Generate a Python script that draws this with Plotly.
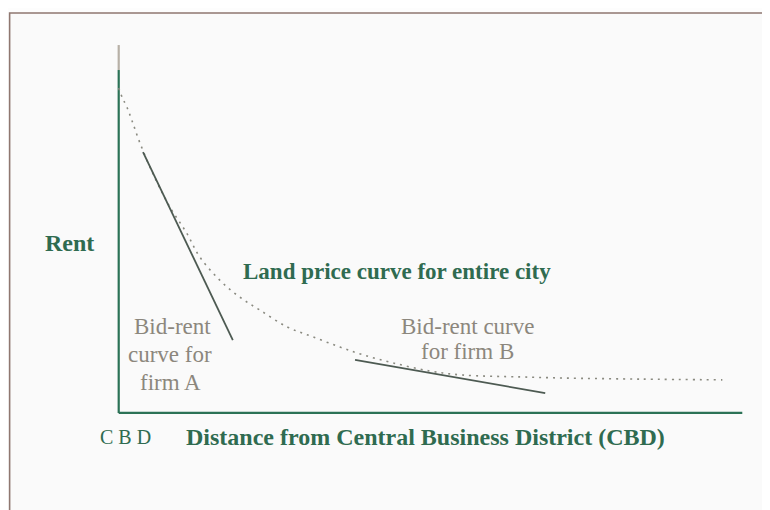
import plotly.graph_objects as go

# ---- data (abstract units: distance 0-100, rent 0-100) ----
land_x = [0, 0.6, 1.3, 2.1, 3.4, 5.8, 8.2, 10.9, 13.0, 16.2, 19.4, 22.6, 27.0, 31.1,
          35.5, 39.2, 44.0, 49.9, 55.2, 64.4, 71.3, 83.6, 96.8]
land_y = [88.3, 85.6, 83.2, 79.6, 73.4, 63.9, 56.0, 48.9, 42.4, 36.1, 31.5, 28.0, 23.4,
          20.7, 17.9, 15.8, 13.6, 11.4, 10.3, 9.8, 9.5, 9.2, 9.0]
firmA_x = [3.9, 18.3]
firmA_y = [70.9, 19.8]
firmB_x = [37.9, 68.4]
firmB_y = [14.4, 5.4]
axis_max = 100
axis_gray_start = 93.2

GREEN = "#2f6b50"
AXIS = "#2b7256"
GRAY_TXT = "#8c877d"
LINE = "#4d5a52"
SERIF = "Liberation Serif, Times New Roman, serif"

fig = go.Figure()
# axes drawn as lines
fig.add_trace(go.Scatter(x=[0, 0], y=[0, axis_gray_start], mode="lines",
                         line=dict(color=AXIS, width=2.2), hoverinfo="skip"))
fig.add_trace(go.Scatter(x=[0, 0], y=[axis_gray_start, axis_max], mode="lines",
                         line=dict(color="#b7b0a6", width=2.2), hoverinfo="skip"))
fig.add_trace(go.Scatter(x=[0, axis_max], y=[0, 0], mode="lines",
                         line=dict(color=AXIS, width=2.2), hoverinfo="skip"))
# land price curve
fig.add_trace(go.Scatter(x=land_x, y=land_y, mode="lines", line_shape="spline",
                         line=dict(color="#8a8a80", width=1.6, dash="2px,5px")))
# bid-rent lines
fig.add_trace(go.Scatter(x=firmA_x, y=firmA_y, mode="lines",
                         line=dict(color=LINE, width=1.8)))
fig.add_trace(go.Scatter(x=firmB_x, y=firmB_y, mode="lines",
                         line=dict(color=LINE, width=1.8)))

# geometry (page body adds an 8px offset)
O = 8
W, H = 770, 510
L, R, T, B = 100.3 - O, 9.3 + O, 34.0 - O, 86.0 + O
pw, ph = W - L - R, H - T - B


def px(xp):
    return (xp - O - L) / pw


def py(yp):
    return (H - B - (yp - O)) / ph


shapes = [dict(type="rect", xref="paper", yref="paper", x0=px(10), x1=px(900),
               y0=py(13), y1=py(700), fillcolor="#fafafa",
               line=dict(color="#8f7770", width=1.6), layer="below")]

ann = []


def add(text, x, y, size, color, bold=False, family=SERIF):
    ann.append(dict(text=("<b>%s</b>" % text) if bold else text, xref="paper", yref="paper",
                    x=px(x), y=py(y), showarrow=False, xanchor="center", yanchor="middle",
                    font=dict(family=family, size=size, color=color)))


add("Rent", 70, 243, 24, GREEN, bold=True)
add("Land price curve for entire city", 397, 271, 23, GREEN, bold=True)
add("Bid-rent", 173, 326, 23, GRAY_TXT)
add("curve for", 170, 354, 23, GRAY_TXT)
add("firm A", 171, 382, 23, GRAY_TXT)
add("Bid-rent curve", 467, 326, 23, GRAY_TXT)
add("for firm B", 467, 351, 23, GRAY_TXT)
add("C B D", 126, 437, 20, GREEN)
add("Distance from Central Business District (CBD)", 426, 437, 24, GREEN, bold=True)

fig.update_layout(
    width=W, height=H, margin=dict(l=L, r=R, t=T, b=B),
    paper_bgcolor="#fdfdfd", plot_bgcolor="rgba(0,0,0,0)",
    showlegend=False, shapes=shapes, annotations=ann,
    xaxis=dict(range=[-3, 103], visible=False, fixedrange=True),
    yaxis=dict(range=[-3, 103], visible=False, fixedrange=True),
)
fig.write_html("out.html")
